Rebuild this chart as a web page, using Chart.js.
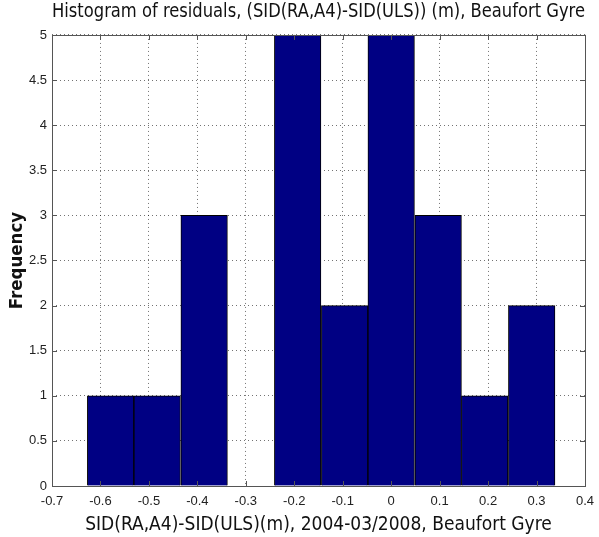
<!DOCTYPE html>
<html>
<head>
<meta charset="utf-8">
<script src="https://cdn.jsdelivr.net/npm/chart.js@4"></script>
<style>
  html, body { margin: 0; padding: 0; background: #fff; }
  #wrap { width: 599px; height: 537px; }
</style>
</head>
<body>
<div id="wrap"><canvas id="c" width="599" height="537"></canvas></div>
<script>
const FONT = "'Liberation Sans Narrow', 'Liberation Sans', sans-serif";
const TITLE_FONT = "'DejaVu Sans Condensed', 'DejaVu Sans', sans-serif";

// histogram bins (centres, m) and counts
const binCentres = [-0.579, -0.483, -0.386, -0.290, -0.193, -0.096, 0.000, 0.097, 0.193, 0.290];
const counts     = [1, 1, 3, 0, 5, 2, 5, 3, 1, 2];
const xTicks = [-0.7, -0.6, -0.5, -0.4, -0.3, -0.2, -0.1, 0, 0.1, 0.2, 0.3, 0.4];
const yTicks = [0, 0.5, 1, 1.5, 2, 2.5, 3, 3.5, 4, 4.5, 5];

const AXIS = '#555';

// inward tick marks + box like matlab axes
Chart.register({
  id: 'matlabBox',
  afterDraw(chart) {
    const { ctx, chartArea: a, scales } = chart;
    const L = 5;
    ctx.save();
    ctx.strokeStyle = AXIS;
    ctx.lineWidth = 1;
    ctx.beginPath();
    xTicks.forEach(v => {
      const x = Math.round(scales.x.getPixelForValue(v)) + 0.5;
      ctx.moveTo(x, a.bottom); ctx.lineTo(x, a.bottom - L);
      ctx.moveTo(x, a.top); ctx.lineTo(x, a.top + L);
    });
    yTicks.forEach(v => {
      const y = Math.round(scales.y.getPixelForValue(v)) + 0.5;
      ctx.moveTo(a.left, y); ctx.lineTo(a.left + L, y);
      ctx.moveTo(a.right, y); ctx.lineTo(a.right - L, y);
    });
    ctx.stroke();
    ctx.strokeRect(Math.round(a.left) + 0.5, Math.round(a.top) + 0.5,
                   Math.round(a.right - a.left), Math.round(a.bottom - a.top));
    ctx.restore();
  }
});

const fmt = v => String(Number(v.toFixed(1)));

new Chart(document.getElementById('c'), {
  type: 'bar',
  data: {
    datasets: [{
      data: binCentres.map((x, i) => ({ x, y: counts[i] })),
      backgroundColor: '#000083',
      borderColor: '#000000',
      borderWidth: 1,
      barPercentage: 1,
      categoryPercentage: 1
    }]
  },
  options: {
    responsive: false,
    animation: false,
    layout: { padding: { top: 0, right: 14, left: 0, bottom: 0 } },
    plugins: {
      legend: { display: false },
      tooltip: { enabled: false },
      title: {
        display: true,
        fullSize: false,
        text: 'Histogram of residuals, (SID(RA,A4)-SID(ULS)) (m), Beaufort Gyre',
        color: '#111',
        font: { family: TITLE_FONT, size: 18.7, weight: 'normal', lineHeight: 1.2 },
        padding: { top: 1, bottom: 11.5 }
      }
    },
    scales: {
      x: {
        type: 'linear',
        offset: false,
        min: -0.7, max: 0.4,
        afterBuildTicks: s => { s.ticks = xTicks.map(value => ({ value })); },
        afterFit: s => { s.height = 51; s.paddingLeft = 0; s.paddingRight = 0; },
        grid: { color: 'rgba(0,0,0,0.55)', drawTicks: false, offset: false },
        border: { display: false, dash: [1, 3] },
        ticks: { color: '#222', padding: 8, font: { family: FONT, size: 13 }, callback: fmt, maxRotation: 0 },
        title: {
          display: true,
          text: 'SID(RA,A4)-SID(ULS)(m), 2004-03/2008, Beaufort Gyre',
          color: '#111',
          font: { family: TITLE_FONT, size: 19 },
          padding: { top: 0, bottom: 1 }
        }
      },
      y: {
        min: 0, max: 5,
        afterBuildTicks: s => { s.ticks = yTicks.map(value => ({ value })); },
        afterFit: s => { s.width = 52; },
        grid: { color: 'rgba(0,0,0,0.55)', drawTicks: false },
        border: { display: false, dash: [1, 3] },
        ticks: { color: '#222', padding: 5, font: { family: FONT, size: 13 }, callback: fmt },
        title: {
          display: true,
          text: 'Frequency',
          color: '#111',
          font: { family: TITLE_FONT, size: 18.5, weight: 'bold' },
          padding: { top: 6, bottom: 0 }
        }
      }
    }
  }
});
</script>
</body>
</html>
